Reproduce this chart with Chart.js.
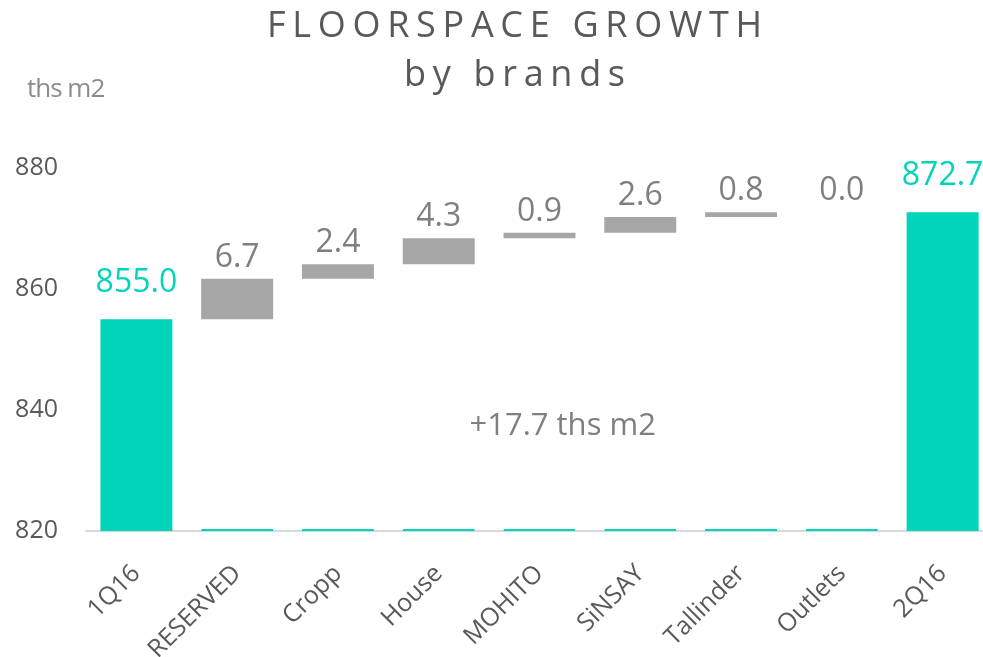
<!DOCTYPE html>
<html>
<head>
<meta charset="utf-8">
<title>Floorspace growth by brands</title>
<script src="https://cdn.jsdelivr.net/npm/chart.js@4.4.0/dist/chart.umd.min.js"></script>
<style>
    html, body { margin: 0; padding: 0; background: #fff; overflow: hidden; }
    #wrap { position: relative; width: 983px; height: 657px; overflow: hidden; }
    #chart { position: absolute; left: 0; top: 0; }
    .title {
        position: absolute;
        font-family: 'Open Sans', sans-serif;
        font-size: 36px;
        line-height: 36px;
        letter-spacing: 6.7px;
        color: #595959;
        white-space: nowrap;
    }
    .unit {
        position: absolute;
        left: 27px;
        top: 74px;
        font-family: 'Open Sans', sans-serif;
        font-size: 26px;
        line-height: 26px;
        letter-spacing: -1px;
        color: #8c8c8c;
    }
</style>
</head>
<body>
<div id="wrap">
    <canvas id="chart" width="993" height="657"></canvas>
    <div class="title" style="left:267px; top:6px;">FLOORSPACE GROWTH</div>
    <div class="title" style="left:404px; top:55px;">by brands</div>
    <div class="unit">ths m2</div>
</div>
<script>
    // chart data
    const categories = ['1Q16', 'RESERVED', 'Cropp', 'House', 'MOHITO', 'SiNSAY', 'Tallinder', 'Outlets', '2Q16'];
    const startTotal = 855.0;
    const brandChanges = [6.7, 2.4, 4.3, 0.9, 2.6, 0.8, 0.0];
    const endTotal = 872.7;
    const yTicks = [820, 840, 860, 880];
    const growthNote = '+17.7 ths m2';

    const teal = '#00d5b9';
    const grey = '#a6a6a6';

    const axisMin = yTicks[0];
    const axisMax = yTicks[yTicks.length - 1];

    // waterfall ranges: totals from the axis, brand changes floating on the running sum
    let running = startTotal;
    const barRanges = [[axisMin, startTotal]];
    const baseRanges = [null];
    brandChanges.forEach(v => {
        const next = Math.round((running + v) * 10) / 10;
        baseRanges.push([axisMin, running]);
        barRanges.push([running, next]);
        running = next;
    });
    barRanges.push([axisMin, endTotal]);
    baseRanges.push(null);

    const barValues = [startTotal, ...brandChanges, endTotal];
    const isTotal = (i) => i === 0 || i === categories.length - 1;

    const valueLabels = {
        id: 'valueLabels',
        afterDatasetsDraw(chart) {
            const ctx = chart.ctx;
            const meta = chart.getDatasetMeta(1);
            ctx.save();
            ctx.font = '32px "Open Sans"';
            ctx.textAlign = 'center';
            ctx.textBaseline = 'alphabetic';
            meta.data.forEach((bar, i) => {
                const top = Math.min(bar.y, bar.base);
                ctx.fillStyle = isTotal(i) ? teal : '#7f7f7f';
                ctx.fillText(barValues[i].toFixed(1), bar.x, top - (isTotal(i) ? 27 : 12));
            });
            // total growth note inside the plot
            const xs = chart.scales.x, ys = chart.scales.y;
            ctx.font = '31px "Open Sans"';
            ctx.fillStyle = '#7f7f7f';
            ctx.fillText(growthNote, xs.getPixelForValue(4.23), ys.getPixelForValue(835.8));
            ctx.restore();
        }
    };

    new Chart(document.getElementById('chart'), {
        type: 'bar',
        data: {
            labels: categories,
            datasets: [{
                label: 'base',
                data: baseRanges,
                grouped: false,
                backgroundColor: 'rgba(0,0,0,0)',
                borderColor: teal,
                borderWidth: { top: 0, left: 0, right: 0, bottom: 2 },
                borderSkipped: false,
                barPercentage: 0.714,
                categoryPercentage: 1
            }, {
                label: 'Floorspace',
                data: barRanges,
                grouped: false,
                backgroundColor: categories.map((c, i) => isTotal(i) ? teal : grey),
                borderWidth: 0,
                barPercentage: 0.714,
                categoryPercentage: 1
            }]
        },
        plugins: [valueLabels],
        options: {
            responsive: false,
            animation: false,
            layout: { padding: { top: 168, left: 0, right: 0, bottom: 0 } },
            plugins: {
                legend: { display: false },
                tooltip: { enabled: false },
                title: { display: false }
            },
            scales: {
                x: {
                    grid: { display: false, drawTicks: false },
                    border: { display: true, color: '#d9d9d9', width: 2 },
                    ticks: {
                        autoSkip: false,
                        maxRotation: 45,
                        minRotation: 45,
                        padding: 28,
                        color: '#595959',
                        font: { family: 'Open Sans', size: 25 }
                    },
                    afterFit: (scale) => { scale.height = 126; }
                },
                y: {
                    min: axisMin,
                    max: axisMax,
                    grid: { display: false, drawTicks: false },
                    border: { display: false },
                    afterBuildTicks: (scale) => { scale.ticks = yTicks.map(v => ({ value: v })); },
                    ticks: {
                        padding: 28,
                        color: '#595959',
                        font: { family: 'Open Sans', size: 25 }
                    },
                    afterFit: (scale) => { scale.width = 86; }
                }
            }
        }
    });
</script>
</body>
</html>
